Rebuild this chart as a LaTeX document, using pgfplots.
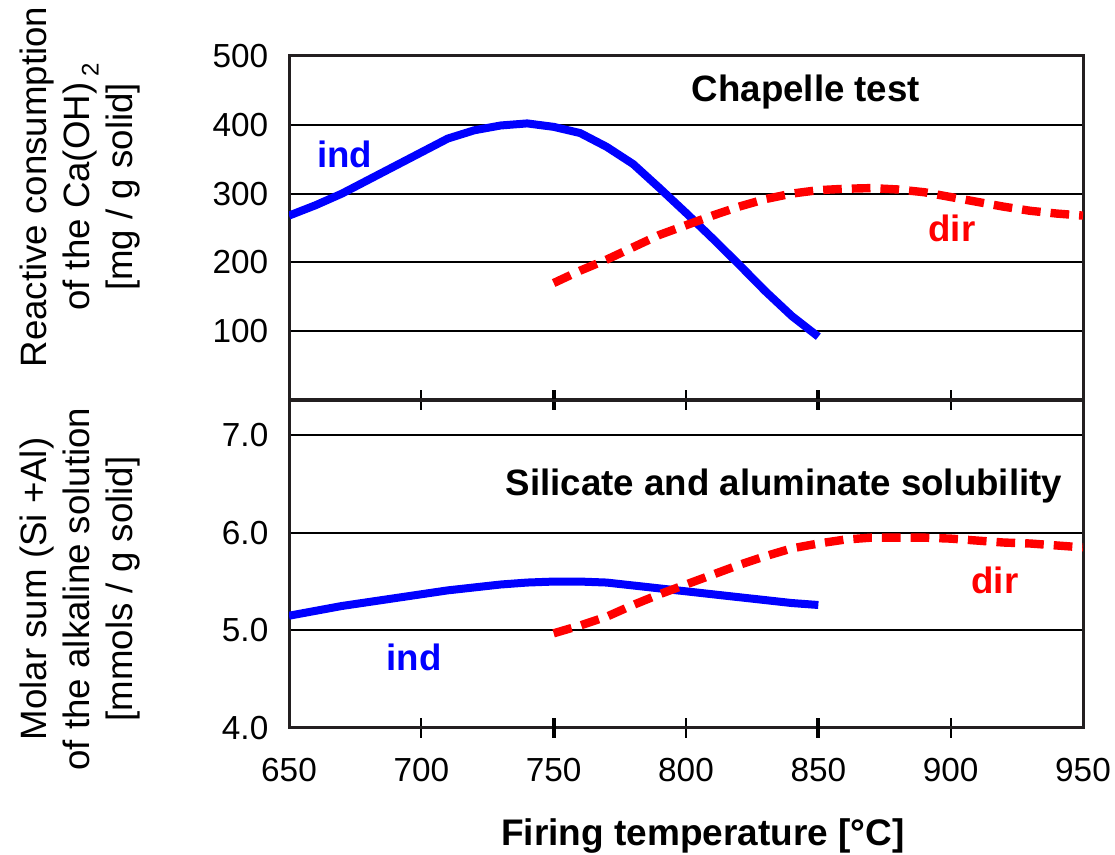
\documentclass[border=0pt]{standalone}
\usepackage{fontspec}
\setmainfont{Liberation Sans}
\usepackage{pgfplots}
\pgfplotsset{compat=1.18}
\definecolor{frame}{HTML}{231F20}
\definecolor{myblue}{HTML}{0000FF}
\definecolor{myred}{HTML}{FF0000}

\pgfplotstableread{
x y
650 268
660 283
670 300
680 320
690 340
700 360
710 380
720 392
730 399
740 402
750 397
760 388
770 368
780 343
790 308
800 272
810 235
820 197
830 158
840 122
850 92
}\topind

\pgfplotstableread{
x y
750 170
760 188
770 204
780 222
790 240
800 254
810 268
820 281
830 292
840 300
850 305
860 307
870 308
880 306
890 302
900 295
910 288
920 281
930 275
940 271
950 268
}\topdir

\pgfplotstableread{
x y
650 5.15
660 5.20
670 5.25
680 5.29
690 5.33
700 5.37
710 5.41
720 5.44
730 5.47
740 5.49
750 5.50
760 5.50
770 5.49
780 5.46
790 5.43
800 5.40
810 5.37
820 5.34
830 5.31
840 5.28
850 5.26
}\botind

\pgfplotstableread{
x y
750 4.97
760 5.05
770 5.14
780 5.26
790 5.37
800 5.47
810 5.57
820 5.67
830 5.76
840 5.84
850 5.89
860 5.93
870 5.95
880 5.95
890 5.95
900 5.94
910 5.92
920 5.90
930 5.89
940 5.87
950 5.85
}\botdir

\pgfplotsset{
  common/.style={
    scale only axis, width=595.5pt, xmin=650, xmax=950,
    axis line style={line width=2.25pt, color=frame},
    ymajorgrids, major grid style={line width=1.5pt, color=black},
    tick align=center, xtick pos=lower, ytick pos=left,
    major tick length=0pt,
    minor xtick={700,800,900}, minor tick length=15pt,
    minor x tick style={line width=1.5pt, color=black},
    extra x ticks={750,850}, extra x tick labels={},
    extra x tick style={major tick length=15pt, major x tick style={line width=3.2pt, color=black}},
    ytick style={draw=none},
    /pgf/number format/assume math mode=true,
    ticklabel style={font=\fontsize{25}{25}\selectfont},
    yticklabel style={xshift=-12pt},
    xticklabel style={yshift=-19pt},
  },
}
\tikzset{
  ind/.style={color=myblue, line width=6pt, line join=round},
  dir/.style={color=myred, line width=6.3pt, dash pattern=on 14pt off 7.5pt},
  lab/.style={font=\fontsize{27.5}{27.5}\selectfont\bfseries},
}

\begin{document}
\begin{tikzpicture}[x=1pt,y=1pt]
\path[use as bounding box] (0,0) rectangle (836.25,641.25);

\begin{axis}[common, at={(216.75pt,341.25pt)}, anchor=south west,
  height=258pt, ymin=0, ymax=500, ytick={100,200,300,400,500},
  xtick={650,700,...,950}, xticklabels={,,,,,,}]
\addplot[ind] table {\topind};
\addplot[dir] table {\topdir};
\node[lab] at (axis cs:845.3,447.7) {Chapelle test};
\node[lab, text=myblue] at (axis cs:671,357) {ind};
\node[lab, text=myred] at (axis cs:900.5,250) {dir};
\end{axis}

\begin{axis}[common, at={(216.75pt,95.25pt)}, anchor=south west,
  height=245.25pt, ymin=4, ymax=7.35, ytick={4,5,6,7},
  yticklabel style={/pgf/number format/.cd, fixed, fixed zerofill, precision=1},
  xtick={650,700,...,950}]
\addplot[ind] table {\botind};
\addplot[dir] table {\botdir};
\node[lab] at (axis cs:837,6.48) {Silicate and aluminate solubility};
\node[lab, text=myred] at (axis cs:916.7,5.515) {dir};
\node[lab, text=myblue] at (axis cs:697.2,4.727) {ind};
\end{axis}

\node[rotate=90, align=center, font=\fontsize{27.5}{32}\selectfont] at (60,501)
  {Reactive consumption\\ of the Ca(OH)\,\raisebox{-0.25em}{\fontsize{18}{18}\selectfont 2}\\ {[}mg / g solid{]}};
\node[rotate=90, align=center, font=\fontsize{27.5}{32}\selectfont] at (60,199.5)
  {Molar sum (Si +Al)\\ of the alkaline solution\\ {[}mmols / g solid{]}};
\node[anchor=base, font=\fontsize{27.75}{27.75}\selectfont\bfseries] at (527.25,6.75)
  {Firing temperature [°C]};
\end{tikzpicture}
\end{document}
